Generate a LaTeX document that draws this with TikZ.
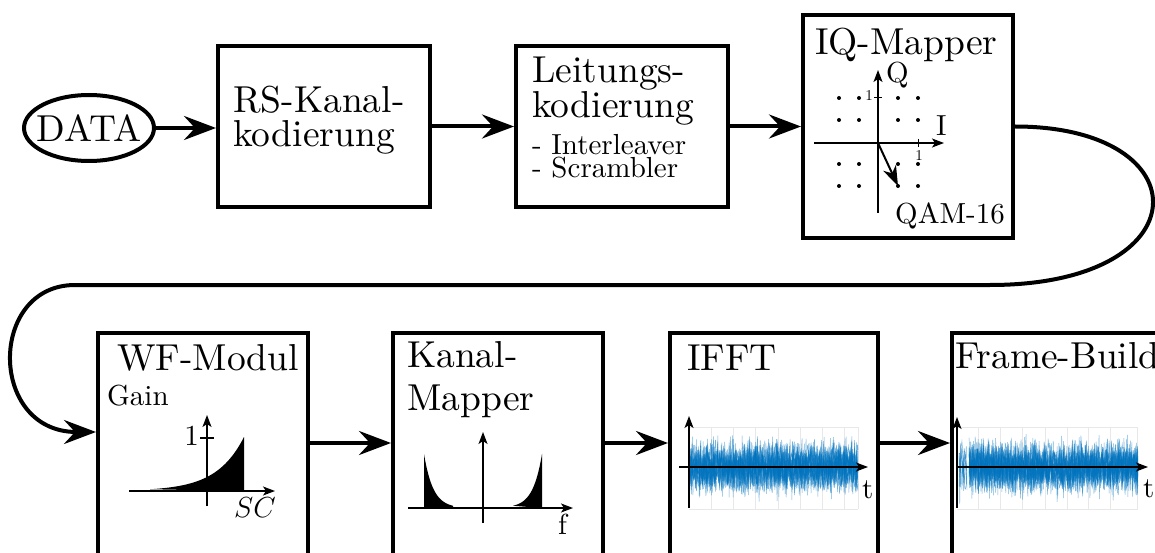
\RequirePackage{fix-cm}
\documentclass[tikz,border=0pt]{standalone}
\usepackage{fontspec}
\setmainfont{lmroman10-regular}[Extension=.otf, ItalicFont=lmroman10-italic, BoldFont=lmroman10-bold]
\usetikzlibrary{arrows.meta,shapes.geometric}
\definecolor{sigblue}{RGB}{0,114,189}
\begin{document}
\begin{tikzpicture}[x=1pt,y=-1pt,
  big/.style={font=\fontsize{37.5}{38}\selectfont, inner sep=0pt},
  mid/.style={font=\fontsize{29}{30}\selectfont, inner sep=0pt},
  small/.style={font=\fontsize{15}{16}\selectfont, inner sep=0pt},
  blk/.style={draw, line width=4pt, rectangle, inner sep=0pt},
  flow/.style={line width=4pt, -{Stealth[length=32pt,width=24pt,inset=11pt]}},
  axis/.style={line width=1.6pt, -{Stealth[length=12pt,width=9pt,inset=3pt]}},
  grid line/.style={gray!18, line width=0.6pt},
  dot/.style={circle, fill, inner sep=0pt, minimum size=4pt},
  noise/.style={sigblue, line width=0.45pt, opacity=0.55},
]
\useasboundingbox (0,0) rectangle (1155,553);

% ---------- upper row ----------
\node[draw, ellipse, line width=4pt, minimum width=130, minimum height=66, inner sep=0pt] (data) at (89,128) {};
\node[big] (datatxt) at (data.center) {DATA};

\node[blk, minimum width=212, minimum height=161] (rs) at (324,126.5) {};
\node[big, anchor=base west] (rs1) at (233,113) {RS-Kanal-};
\node[big, anchor=base west] (rs2) at (233,147) {kodierung};

\node[blk, minimum width=212, minimum height=161] (lc) at (622,126.5) {};
\node[big, anchor=base west] (lc1) at (532,83) {Leitungs-};
\node[big, anchor=base west] (lc2) at (532,118) {kodierung};
\node[mid, anchor=base west] (lc3) at (532,155) {- Interleaver};
\node[mid, anchor=base west] (lc4) at (532,178) {- Scrambler};

\node[blk, minimum width=210, minimum height=223] (iq) at (908,126.5) {};
\node[big, anchor=base west] (iqt) at (815,55) {IQ-Mapper};

% constellation diagram
\coordinate (o) at (878,143);
\draw[axis] (814,143) -- (944,143);
\draw[axis] (878,213) -- (878,70);
\foreach \px in {839,859,898,918}
  \foreach \py in {98,120,164,186}
    \node[dot] at (\px,\py) {};
\draw[line width=1pt] (918,139) -- (918,147);
\draw[line width=1pt] (874,98) -- (882,98);
\node[small] (one1) at (919,156) {1};
\node[small] (one2) at (869,96) {1};
\node[mid, anchor=base west] (qlab) at (886,83) {Q};
\node[mid, anchor=base west] (ilab) at (936,136) {I};
\draw[line width=2pt, -{Stealth[length=20pt,width=14pt,inset=6pt]}] (o) -- (898,186);
\node[mid, anchor=base west] (qam) at (895,223) {QAM-16};

% ---------- lower row ----------
\node[blk, minimum width=210, minimum height=223] (wf) at (203,444.5) {};
\node[big, anchor=base west] (wft) at (117,370) {WF-Modul};
\node[mid, anchor=base west] (gain) at (107,405) {Gain};
\fill plot[domain=150:244, samples=60] (\x,{491-54*exp(0.0365*(\x-244))}) -- (244,491) -- cycle;
\draw[axis] (129,491) -- (275,491);
\draw[axis] (207,506) -- (207,415);
\draw[line width=1.4pt] (200,438) -- (214,438);
\node[mid, anchor=east] (wfone) at (199,436) {1};
\node[mid, anchor=base west] (sc) at (234,517) {$SC$};

\node[blk, minimum width=210, minimum height=223] (km) at (498,444.5) {};
\node[big, anchor=base west] (km1) at (407,367) {Kanal-};
\node[big, anchor=base west] (km2) at (407,410) {Mapper};
\fill plot[domain=424:453, samples=50] (\x,{508-54*exp(-0.11*(\x-424))}) -- (453,508) -- (424,508) -- cycle;
\fill plot[domain=513:542, samples=50] (\x,{508-54*exp(0.11*(\x-542))}) -- (542,508) -- cycle;
\draw[axis] (408,508) -- (573,508);
\draw[axis] (483,523) -- (483,432);
\node[mid, anchor=base west] (flab) at (558,534) {f};

\node[blk, minimum width=208, minimum height=223] (ifft) at (774,444.5) {};
\node[big, anchor=base west] (ifftt) at (687,370) {IFFT};
\draw[grid line] (689,427) -- (858,427) (689,509) -- (858,509);
\foreach \gx in {711,733,755,778,800,822,844,858}
  \draw[grid line] (\gx,427) -- (\gx,509);
\pgfmathsetseed{7}
\foreach \k in {1,...,12}
  \draw[noise] plot[domain=689:858, samples=300] (\x,{467+12*(rand+rand+rand)});
\draw[axis] (679,467) -- (868,467);
\draw[axis] (689,508) -- (689,416);
\node[mid, anchor=base west] (tlab1) at (862,498) {t};

\node[blk, minimum width=210, minimum height=223] (fb) at (1057,444.5) {};
\node[big, anchor=base west] (fbt) at (955,368) {Frame-Build};
\draw[grid line] (957,427) -- (1138,427) (957,509) -- (1138,509);
\foreach \gx in {978,1000,1022,1045,1067,1088,1110,1137}
  \draw[grid line] (\gx,427) -- (\gx,509);
\foreach \k in {1,...,4}
  \draw[noise] plot[domain=959:967, samples=12] (\x,{467+15*(rand+rand+rand)});
\foreach \k in {1,...,12}
  \draw[noise] plot[domain=969:1138, samples=300] (\x,{467+12*(rand+rand+rand)});
\draw[axis] (957,467) -- (1148,467);
\draw[axis] (957,508) -- (957,417);
\node[mid, anchor=base west] (tlab2) at (1143,497) {t};

% ---------- connectors ----------
\draw[flow] (data.east) -- (data.east -| rs.west);
\draw[flow] (rs) -- (lc);
\draw[flow] (lc) -- (iq);
\draw[flow] (iq.east) .. controls (1203,126.5) and (1203,285) .. (990,285)
  -- (75,285) .. controls (-12,285) and (-12,432) .. ([yshift=12.5pt]wf.west);
\draw[flow] ([yshift=1.5pt]wf.east) -- ([yshift=1.5pt]km.west);
\draw[flow] ([yshift=1.5pt]km.east) -- ([yshift=1.5pt]ifft.west);
\draw[flow] ([yshift=1.5pt]ifft.east) -- ([yshift=1.5pt]fb.west);
\end{tikzpicture}
\end{document}
